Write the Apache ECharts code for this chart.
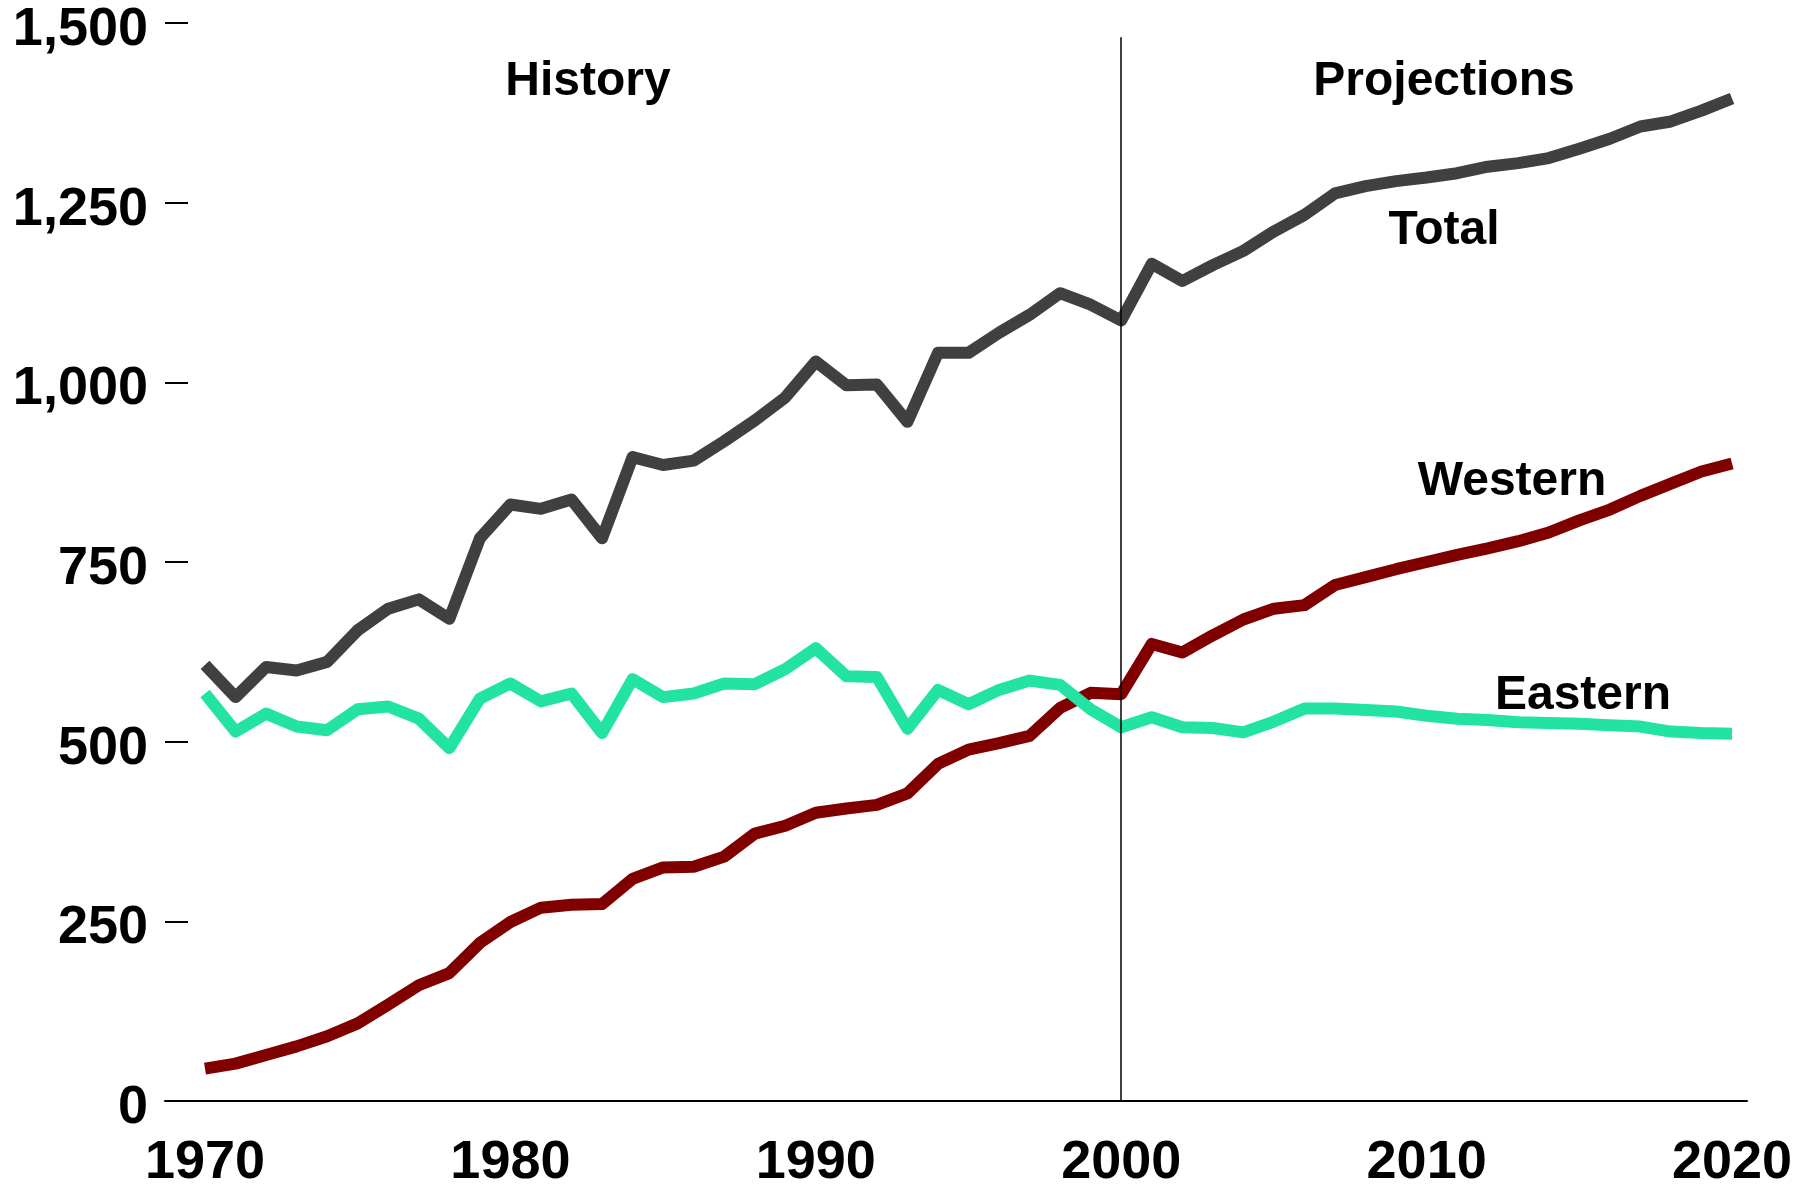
<!DOCTYPE html>
<html>
<head>
<meta charset="utf-8">
<script src="https://cdn.jsdelivr.net/npm/echarts@6/dist/echarts.min.js"></script>
<style>
html,body{margin:0;padding:0;background:#fff;}
#chart{width:1816px;height:1186px;}
</style>
</head>
<body>
<div id="chart"></div>
<script>
const years = [];
for (let y = 1970; y <= 2020; y++) years.push(y);

const total = [607,562,604,599,611,655,685,698,671,783,830,824,837,783,896,885,891,918,947,979,
  1029,996,997,945,1041,1041,1069,1094,1124,1108,1086,1165,1141,1163,1183,1210,1233,1263,1273,1280,
  1285,1291,1300,1305,1312,1325,1339,1356,1363,1378,1395];
const western = [45,52,64,76,90,108,134,161,178,220,249,269,273,274,309,325,326,340,372,383,
  401,407,412,428,469,489,498,508,547,568,566,636,624,648,670,685,690,718,729,740,
  750,760,769,779,791,808,823,842,859,876,887];
const eastern = [567,514,539,521,516,545,549,532,491,560,581,556,567,512,587,562,567,581,580,601,
  630,591,590,518,572,552,572,585,579,545,520,534,520,519,513,528,546,546,544,542,
  536,532,530,527,526,525,523,521,514,512,511];

const xTickLabels = [1970,1980,1990,2000,2010,2020];
const yTicks = {min:0, max:1500, step:250};
const dividerYear = 2000;
const dividerTop = 1480;

const font = "'Liberation Sans', Arial, Helvetica, sans-serif";
const pair = arr => years.map((y,i)=>[y, arr[i]]);

const lineStyle = (c)=>({color:c, width:12, cap:'butt', join:'round'});

const chart = echarts.init(document.getElementById('chart'), null, {renderer:'canvas'});
chart.setOption({
  animation:false,
  backgroundColor:'#ffffff',
  grid:{left:165, right:69, top:23, bottom:85, containLabel:false, outerBoundsMode:'none'},
  xAxis:{
    type:'value', min:1968.69, max:2020.49,
    axisLine:{show:true, lineStyle:{color:'#000', width:2}},
    axisTick:{show:false},
    splitLine:{show:false},
    axisLabel:{customValues:xTickLabels, fontSize:54, fontWeight:'bold', fontFamily:font, color:'#000', margin:35,
      formatter:v=>String(v)}
  },
  yAxis:{
    type:'value', min:yTicks.min, max:yTicks.max, interval:yTicks.step,
    axisLine:{show:false},
    axisTick:{show:true, inside:true, length:23, lineStyle:{color:'#000', width:2}},
    splitLine:{show:false},
    axisLabel:{fontSize:54, fontWeight:'bold', fontFamily:font, color:'#000', margin:17,
      verticalAlign:'top', lineHeight:14,
      formatter:v=>v.toLocaleString('en-US')}
  },
  series:[
    {name:'Total', type:'line', data:pair(total), showSymbol:false, lineStyle:lineStyle('#404040'), z:3,
     markLine:{silent:true, symbol:['none','none'], label:{show:false},
       lineStyle:{color:'#000', width:1.5, type:'solid'},
       data:[[{coord:[dividerYear,0]},{coord:[dividerYear,dividerTop]}]]}},
    {name:'Western', type:'line', data:pair(western), showSymbol:false, lineStyle:lineStyle('#800000'), z:3},
    {name:'Eastern', type:'line', data:pair(eastern), showSymbol:false, lineStyle:lineStyle('#22E3A2'), z:4}
  ],
  graphic:[
    {type:'text', x:588, y:82, style:{text:'History', font:`bold 48px ${font}`, fill:'#000', align:'center', verticalAlign:'middle'}},
    {type:'text', x:1444, y:82, style:{text:'Projections', font:`bold 48px ${font}`, fill:'#000', align:'center', verticalAlign:'middle'}},
    {type:'text', x:1444, y:231, style:{text:'Total', font:`bold 48px ${font}`, fill:'#000', align:'center', verticalAlign:'middle'}},
    {type:'text', x:1512, y:482, style:{text:'Western', font:`bold 48px ${font}`, fill:'#000', align:'center', verticalAlign:'middle'}},
    {type:'text', x:1583, y:696, style:{text:'Eastern', font:`bold 48px ${font}`, fill:'#000', align:'center', verticalAlign:'middle'}}
  ]
});
</script>
</body>
</html>
